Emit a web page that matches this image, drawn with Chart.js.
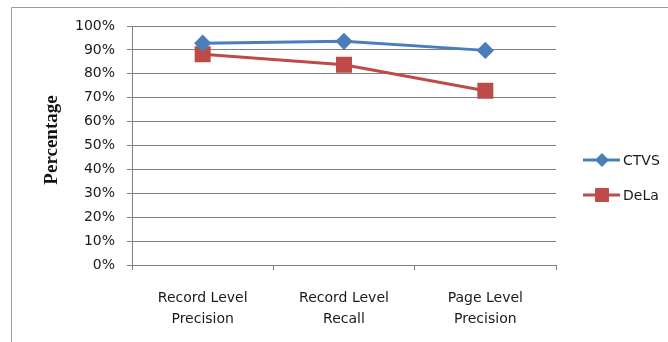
<!DOCTYPE html>
<html>
<head>
<meta charset="utf-8">
<script src="https://cdn.jsdelivr.net/npm/chart.js@4.4.0/dist/chart.umd.min.js"></script>
<style>
    body { margin: 0; background: #fff; }
    #wrap { width: 668px; height: 342px; }
</style>
</head>
<body>
<div id="wrap"><canvas id="myChart" width="668" height="342"></canvas></div>
<script>
// categories and values (percent)
const categories = [["Record Level", "Precision"], ["Record Level", "Recall"], ["Page Level", "Precision"]];
const ctvsValues = [92.8, 93.6, 89.8];
const delaValues = [88.2, 83.8, 72.9];
const yTicks = [0, 10, 20, 30, 40, 50, 60, 70, 80, 90, 100];
const yTitle = "Percentage";

const BLUE = "#4a7ebb";
const RED = "#be4b48";
const GRID = "#7f7f7f";
const TEXT = "#1a1a1a";
const labelFont = { family: "DejaVu Sans", size: 14 };

// frame round the picture (left and top edge)
const framePlugin = {
    id: "frame",
    beforeDraw(chart) {
        const c = chart.ctx;
        c.save();
        c.strokeStyle = "#9c9c9c";
        c.lineWidth = 1;
        c.beginPath();
        c.moveTo(11.5, 342);
        c.lineTo(11.5, 7.5);
        c.lineTo(668, 7.5);
        c.stroke();
        c.restore();
    },
};

// y axis title, rotated
const titlePlugin = {
    id: "yTitle",
    afterDraw(chart) {
        const c = chart.ctx;
        c.save();
        c.translate(52, 140);
        c.rotate(-Math.PI / 2);
        c.fillStyle = "#111";
        c.font = "bold 19px 'Liberation Serif'";
        c.textAlign = "center";
        c.textBaseline = "middle";
        c.fillText(yTitle, 0, 0);
        c.restore();
    },
};

// legend on the right, line with marker
const legendPlugin = {
    id: "sideLegend",
    afterDraw(chart) {
        const c = chart.ctx;
        const rows = [
            { y: 160, ds: chart.data.datasets[0] },
            { y: 195, ds: chart.data.datasets[1] },
        ];
        c.save();
        rows.forEach((r) => {
            c.strokeStyle = r.ds.borderColor;
            c.lineWidth = 3;
            c.beginPath();
            c.moveTo(583, r.y);
            c.lineTo(620, r.y);
            c.stroke();
            c.fillStyle = r.ds.pointBackgroundColor;
            c.strokeStyle = r.ds.pointBorderColor;
            c.lineWidth = 1;
            Chart.helpers.drawPoint(c, {
                pointStyle: r.ds.pointStyle,
                radius: r.ds.pointRadius,
                rotation: 0,
                borderWidth: 1,
            }, 602, r.y);
            c.fillStyle = TEXT;
            c.font = "14px 'DejaVu Sans'";
            c.textBaseline = "middle";
            c.textAlign = "left";
            c.fillText(r.ds.label, 623, r.y + 1);
        });
        c.restore();
    },
};

const ctx = document.getElementById("myChart").getContext("2d");
new Chart(ctx, {
    type: "line",
    data: {
        labels: categories,
        datasets: [
            {
                label: "CTVS",
                data: ctvsValues,
                borderColor: BLUE,
                borderWidth: 3,
                pointStyle: "rectRot",
                pointRadius: 6.5,
                pointBackgroundColor: BLUE,
                pointBorderColor: BLUE,
                tension: 0,
            },
            {
                label: "DeLa",
                data: delaValues,
                borderColor: RED,
                borderWidth: 3,
                pointStyle: "rect",
                pointRadius: 9.2,
                pointBackgroundColor: RED,
                pointBorderColor: RED,
                tension: 0,
            },
        ],
    },
    options: {
        responsive: false,
        animation: false,
        layout: {
            padding: { left: 0, top: 26, right: 112, bottom: 0 },
        },
        plugins: {
            legend: { display: false },
            tooltip: { enabled: false },
        },
        scales: {
            x: {
                offset: true,
                grid: {
                    offset: true,
                    drawOnChartArea: false,
                    color: GRID,
                    tickLength: 5,
                },
                border: { color: GRID, width: 1 },
                ticks: {
                    color: TEXT,
                    font: { ...labelFont, lineHeight: 1.5 },
                    padding: 18,
                    maxRotation: 0,
                },
                afterFit: (s) => { s.height = 342 - 265; },
            },
            y: {
                min: 0,
                max: 100,
                afterBuildTicks: (s) => { s.ticks = yTicks.map((v) => ({ value: v })); },
                grid: {
                    color: GRID,
                    tickLength: 5,
                },
                border: { color: GRID, width: 1 },
                ticks: {
                    color: TEXT,
                    font: labelFont,
                    padding: 12,
                    callback: (v) => v + "%",
                },
                afterFit: (s) => { s.width = 132; },
            },
        },
    },
    plugins: [framePlugin, titlePlugin, legendPlugin],
});
</script>
</body>
</html>
